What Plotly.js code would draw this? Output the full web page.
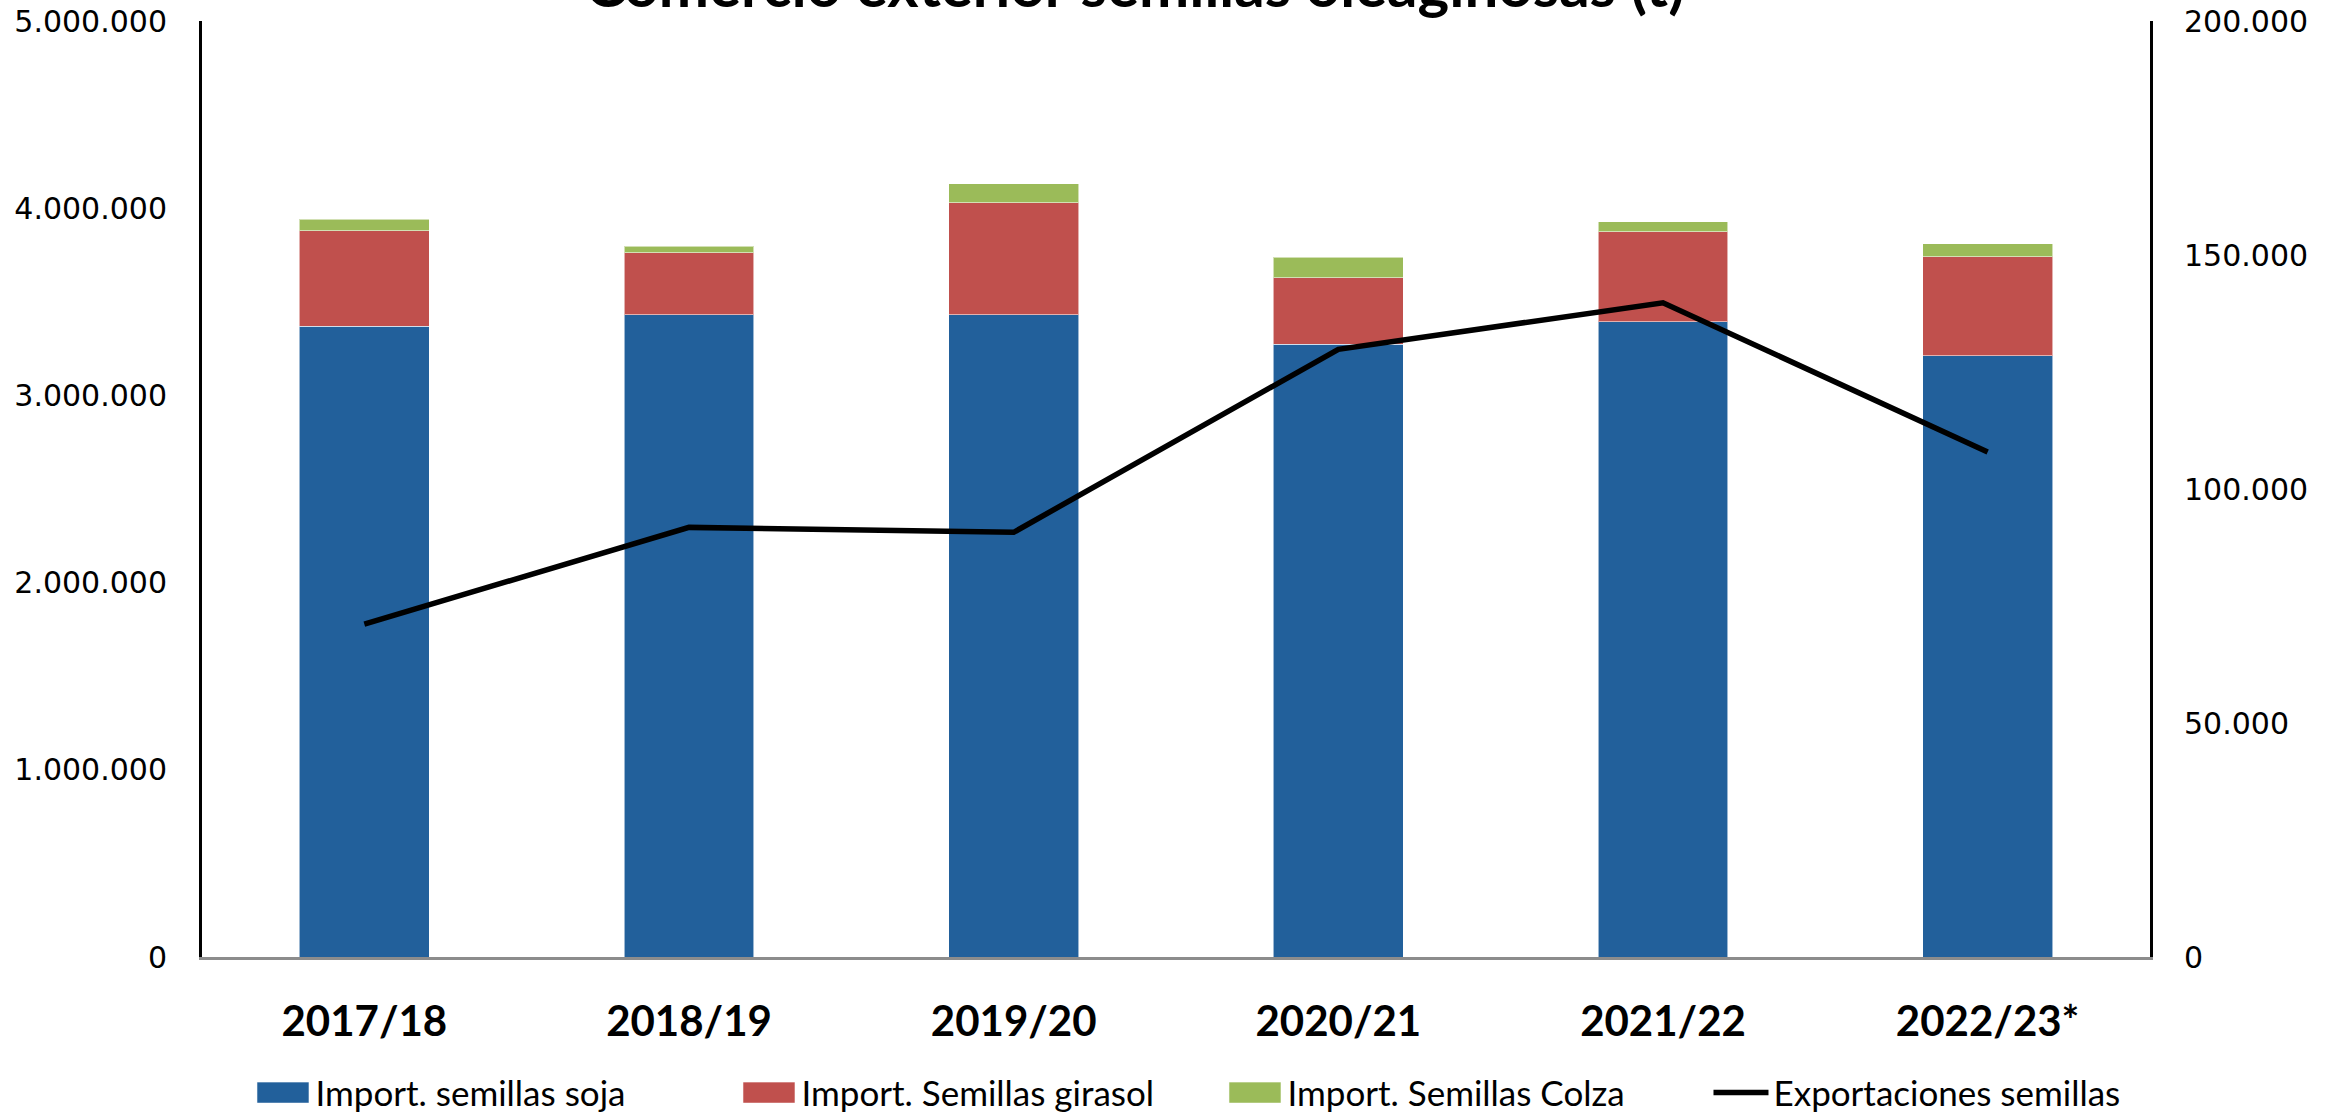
<!DOCTYPE html>
<html>
<head>
<meta charset="utf-8">
<script src="https://cdn.plot.ly/plotly-3.0.1.min.js"></script>
<style>
html, body { margin: 0; padding: 0; background: #ffffff; }
#chart { width: 2341px; height: 1114px; }
</style>
</head>
<body>
<div id="chart"></div>
<script>
// ---- data ----
var campaigns = ['2017/18', '2018/19', '2019/20', '2020/21', '2021/22', '2022/23*'];
var importSoja = [3369000, 3431000, 3431000, 3273000, 3394000, 3212000];
var importGirasol = [511000, 331000, 598000, 356000, 481000, 529000];
var importColza = [61000, 36000, 102000, 109000, 52000, 69000];
var exportaciones = [71150, 91800, 90750, 129850, 139800, 107900];

var seriesNames = ['Import. semillas soja', 'Import. Semillas girasol', 'Import. Semillas Colza', 'Exportaciones semillas'];
var chartTitle = 'Comercio exterior semillas oleaginosas (t)';

var barLine = { color: 'rgba(255,255,255,0.55)', width: 1 };

var traces = [
  { type: 'bar', name: seriesNames[0], x: campaigns, y: importSoja,
    marker: { color: '#22609B', line: barLine }, yaxis: 'y' },
  { type: 'bar', name: seriesNames[1], x: campaigns, y: importGirasol,
    marker: { color: '#C0504D', line: barLine }, yaxis: 'y' },
  { type: 'bar', name: seriesNames[2], x: campaigns, y: importColza,
    marker: { color: '#9BBB59', line: barLine }, yaxis: 'y' },
  { type: 'scatter', mode: 'lines', name: seriesNames[3], x: campaigns, y: exportaciones,
    line: { color: '#000000', width: 5.5 }, yaxis: 'y2' }
];

var layout = {
  width: 2341,
  height: 1114,
  paper_bgcolor: '#ffffff',
  plot_bgcolor: '#ffffff',
  separators: ',.',
  barmode: 'stack',
  bargap: 0.6,
  margin: { l: 202, r: 191, t: 21, b: 157, pad: 0 },
  title: {
    text: '<b>' + chartTitle + '</b>',
    font: { family: 'Lato, sans-serif', size: 60, color: '#000000' },
    x: 0.4848, xref: 'container', xanchor: 'center',
    y: 0.9937, yref: 'container', yanchor: 'bottom'
  },
  xaxis: {
    type: 'category',
    showline: true, linecolor: '#8c8c8c', linewidth: 2.5,
    showgrid: false, zeroline: false, ticks: '',
    tickfont: { family: 'Lato, sans-serif', size: 42, color: '#000000', weight: 'bold' },
    ticklabelstandoff: 26
  },
  yaxis: {
    range: [0, 5000000], dtick: 1000000, tick0: 0,
    tickformat: ',d',
    showline: true, linecolor: '#000000', linewidth: 3,
    showgrid: false, zeroline: false, ticks: '',
    tickfont: { family: 'DejaVu Sans, sans-serif', size: 30, color: '#000000' },
    ticklabelstandoff: 26
  },
  yaxis2: {
    overlaying: 'y', side: 'right',
    range: [0, 200000], dtick: 50000, tick0: 0,
    tickformat: ',d',
    showline: true, linecolor: '#000000', linewidth: 3,
    showgrid: false, zeroline: false, ticks: '',
    tickfont: { family: 'DejaVu Sans, sans-serif', size: 30, color: '#000000' },
    ticklabelstandoff: 25
  },
  showlegend: true,
  legend: {
    orientation: 'h',
    x: 0.107, xref: 'container', xanchor: 'left',
    y: 0.019, yref: 'container', yanchor: 'middle',
    font: { family: 'Lato, sans-serif', size: 35, color: '#000000' },
    entrywidth: 416, entrywidthmode: 'pixels',
    itemwidth: 55,
    traceorder: 'normal',
    bgcolor: 'rgba(0,0,0,0)'
  }
};

Plotly.newPlot('chart', traces, layout, { displayModeBar: false, staticPlot: true }).then(function () {
  // enlarge the bar swatches in the legend to match the reference
  document.querySelectorAll('.legend .legendpoints path').forEach(function (p) {
    var cls = p.getAttribute('class') || '';
    if (cls.indexOf('line') === -1) {
      p.setAttribute('d', 'M26,10.5H-26V-10.5H26Z');
    }
  });
});
</script>
</body>
</html>
